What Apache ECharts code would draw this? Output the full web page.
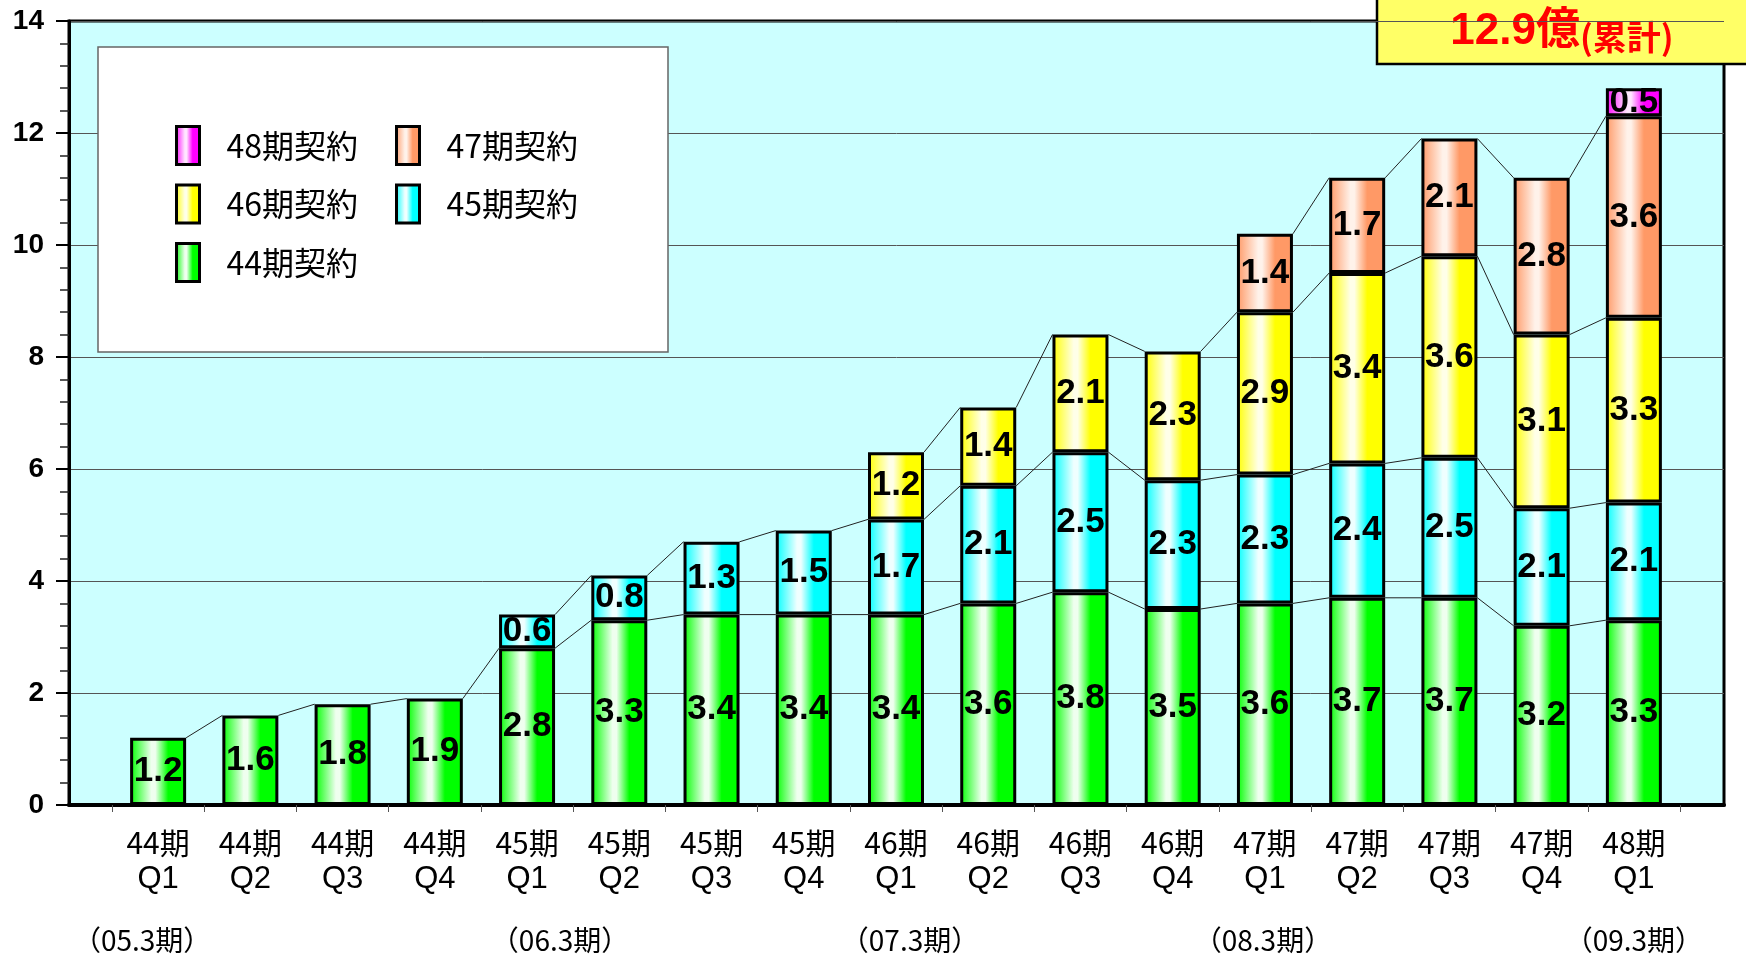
<!DOCTYPE html>
<html>
<head>
<meta charset="utf-8">
<script src="https://cdn.jsdelivr.net/npm/echarts@6/dist/echarts.min.js"></script>
<style>
  html, body { margin: 0; padding: 0; background: #ffffff; }
  #chart { width: 1746px; height: 957px; }
</style>
</head>
<body>
<div id="chart"></div>
<script>
// Quarterly contract totals (億), stacked by the fiscal term in which each contract was signed
const periods  = ['44期','44期','44期','44期','45期','45期','45期','45期','46期','46期','46期','46期','47期','47期','47期','47期','48期'];
const quarters = ['Q1','Q2','Q3','Q4','Q1','Q2','Q3','Q4','Q1','Q2','Q3','Q4','Q1','Q2','Q3','Q4','Q1'];
const fiscalYears = ['（05.3期）','','','','（06.3期）','','','','（07.3期）','','','','（08.3期）','','','','（09.3期）'];

const seriesNames = ['44期契約','45期契約','46期契約','47期契約','48期契約'];
const contract44 = [1.2, 1.6, 1.8, 1.9, 2.8, 3.3, 3.4, 3.4, 3.4, 3.6, 3.8, 3.5, 3.6, 3.7, 3.7, 3.2, 3.3];
const contract45 = [null, null, null, null, 0.6, 0.8, 1.3, 1.5, 1.7, 2.1, 2.5, 2.3, 2.3, 2.4, 2.5, 2.1, 2.1];
const contract46 = [null, null, null, null, null, null, null, null, 1.2, 1.4, 2.1, 2.3, 2.9, 3.4, 3.6, 3.1, 3.3];
const contract47 = [null, null, null, null, null, null, null, null, null, null, null, null, 1.4, 1.7, 2.1, 2.8, 3.6];
const contract48 = [null, null, null, null, null, null, null, null, null, null, null, null, null, null, null, null, 0.5];

const cumulativeText = '12.9億';
const cumulativeNote = '(累計)';

const yMin = 0, yMax = 14, yStep = 2;

// ---- derived values ----
const categories = periods.map((p, i) => p + '\n' + quarters[i]);
const allSeries = [contract44, contract45, contract46, contract47, contract48];
// running top of each stack layer, used by the connector lines
const stackTops = allSeries.map((_, s) => categories.map((_, i) => {
  let t = 0;
  for (let k = 0; k <= s; k++) t += allSeries[k][i] || 0;
  return t;
}));

// ---- styling ----
const BAR_W = 56;
const baseColors = ['#00ff00', '#00ffff', '#ffff00', '#ff9966', '#ff00ff'];
const shineColors = ['#efffef', '#efffff', '#ffffe8', '#fff2ea', '#ffe6ff'];
function shine(c, light) {
  return new echarts.graphic.LinearGradient(0, 0, 1, 0, [
    { offset: 0, color: c },
    { offset: 0.38, color: light },
    { offset: 0.45, color: light },
    { offset: 0.68, color: c },
    { offset: 1, color: c }
  ]);
}
const jpFont = "'Noto Sans CJK JP', 'Noto Sans', sans-serif";
const numFont = "'Liberation Sans Narrow', 'Liberation Sans', Arial, sans-serif";
const fiscalNudge = { 0: -16, 4: 33, 8: 14, 12: -2, 16: 0 };

const fiscalRich = {};
Object.keys(fiscalNudge).forEach(k => {
  const n = fiscalNudge[k];
  fiscalRich['f' + k] = {
    fontFamily: jpFont, fontSize: 28, color: '#000', lineHeight: 32,
    padding: n >= 0 ? [0, 0, 0, 2 * n] : [0, -2 * n, 0, 0]
  };
});

const chart = echarts.init(document.getElementById('chart'), null, { renderer: 'canvas' });

const barSeries = allSeries.map((vals, s) => ({
  name: seriesNames[s],
  type: 'bar',
  stack: 'total',
  xAxisIndex: 1,
  yAxisIndex: 1,
  barWidth: BAR_W,
  z: 3,
  data: vals,
  itemStyle: {
    color: shine(baseColors[s], shineColors[s]),
    borderColor: '#000',
    borderWidth: 3
  },
  label: {
    show: true,
    position: 'inside',
    formatter: p => (p.value == null ? '' : String(p.value)),
    color: '#000',
    fontFamily: numFont,
    fontWeight: 'bold',
    fontSize: 35,
    textBorderWidth: 0
  },
  emphasis: { disabled: true }
}));

// thin connector lines joining the top of each layer from one bar to the next
const connectorSeries = {
  type: 'custom',
  xAxisIndex: 1,
  yAxisIndex: 1,
  z: 2,
  silent: true,
  data: categories.slice(0, -1).map((_, i) => [i]),
  renderItem: (params, api) => {
    const i = api.value(0);
    const half = BAR_W / 2;
    const children = [];
    allSeries.forEach((vals, s) => {
      if (vals[i] == null || vals[i + 1] == null) return;
      const a = api.coord([i, stackTops[s][i]]);
      const b = api.coord([i + 1, stackTops[s][i + 1]]);
      children.push({
        type: 'line',
        shape: { x1: a[0] + half, y1: a[1], x2: b[0] - half, y2: b[1] },
        style: { stroke: '#222', lineWidth: 1 }
      });
    });
    return { type: 'group', children };
  }
};

const legendCommon = {
  orient: 'vertical', top: 125, padding: 0, icon: 'rect',
  itemWidth: 23, itemHeight: 38, itemGap: 17.5, selectedMode: false, z: 20,
  itemStyle: { borderColor: '#000', borderWidth: 3 },
  textStyle: { fontFamily: jpFont, fontSize: 32, color: '#000', padding: [0, 0, 0, 22] }
};

const option = {
  backgroundColor: '#ffffff',
  animation: false,
  grid: [
    { left: 69, right: 22, top: 21, bottom: 152, show: true,
      backgroundColor: '#ccffff', borderColor: '#000', borderWidth: 3 },
    { left: 112, right: 66, top: 21, bottom: 152 }
  ],
  xAxis: [
    { gridIndex: 0, type: 'value', min: 0, max: 1,
      axisLine: { show: true, lineStyle: { color: '#000', width: 4 } },
      axisTick: { show: false }, axisLabel: { show: false }, splitLine: { show: false } },
    { gridIndex: 1, type: 'category', data: categories, position: 'bottom',
      axisLine: { show: false },
      axisTick: { show: true, length: 7, interval: 0, lineStyle: { color: '#555', width: 1 } },
      axisLabel: {
        interval: 0, margin: 20,
        formatter: v => { const [p, q] = v.split('\n'); return '{p|' + p + '}\n{q|' + q + '}'; },
        rich: {
          p: { fontFamily: jpFont, fontSize: 30, color: '#000', lineHeight: 36 },
          q: { fontFamily: "'Liberation Sans', Arial, sans-serif", fontSize: 31, color: '#000', lineHeight: 36 }
        }
      } },
    { gridIndex: 1, type: 'category', data: fiscalYears.map((_, i) => 'c' + i), position: 'bottom',
      axisLine: { show: false }, axisTick: { show: false },
      axisLabel: {
        interval: 0, margin: 119,
        formatter: (v, i) => fiscalYears[i] ? '{f' + i + '|' + fiscalYears[i] + '}' : '',
        rich: fiscalRich
      } }
  ],
  yAxis: [
    { gridIndex: 0, type: 'value', min: yMin, max: yMax, interval: yStep,
      axisLine: { show: true, lineStyle: { color: '#000', width: 3 } },
      axisTick: { show: true, length: 13, lineStyle: { color: '#000', width: 2 } },
      minorTick: { show: true, splitNumber: 5, length: 9, lineStyle: { color: '#222', width: 1.5 } },
      splitLine: { show: true, lineStyle: { color: '#555', width: 1 } },
      axisLabel: { margin: 25, color: '#000', fontFamily: "'Liberation Sans', Arial, sans-serif",
        fontWeight: 'bold', fontSize: 28 } },
    { gridIndex: 1, type: 'value', min: yMin, max: yMax, show: false, splitLine: { show: false } }
  ],
  legend: [
    Object.assign({}, legendCommon, { data: ['48期契約', '46期契約', '44期契約'], left: 175 }),
    Object.assign({}, legendCommon, { data: ['47期契約', '45期契約'], left: 395 })
  ],
  graphic: [
    { type: 'rect', z: 10, silent: true,
      shape: { x: 98, y: 47, width: 570, height: 305 },
      style: { fill: '#ffffff', stroke: '#666', lineWidth: 1.5 } },
    { type: 'group', z: 30, silent: true, children: [
      { type: 'rect', shape: { x: 1377, y: -3, width: 372, height: 67 },
        style: { fill: '#ffff66', stroke: '#000', lineWidth: 2.5 } },
      { type: 'text', x: 1562, y: 32,
        style: {
          text: '{a|' + cumulativeText + '}{b|' + cumulativeNote + '}',
          align: 'center', verticalAlign: 'middle',
          rich: {
            a: { fontFamily: "'Liberation Sans', 'Noto Sans CJK JP', sans-serif", fontWeight: 'bold', fontSize: 44, fill: '#ff0000', verticalAlign: 'bottom' },
            b: { fontFamily: "'Noto Sans CJK JP', sans-serif", fontWeight: 'bold', fontSize: 34, fill: '#ff0000', verticalAlign: 'bottom' }
          }
        } }
    ] }
  ],
  series: [...barSeries, connectorSeries]
};

chart.setOption(option);
</script>
</body>
</html>
